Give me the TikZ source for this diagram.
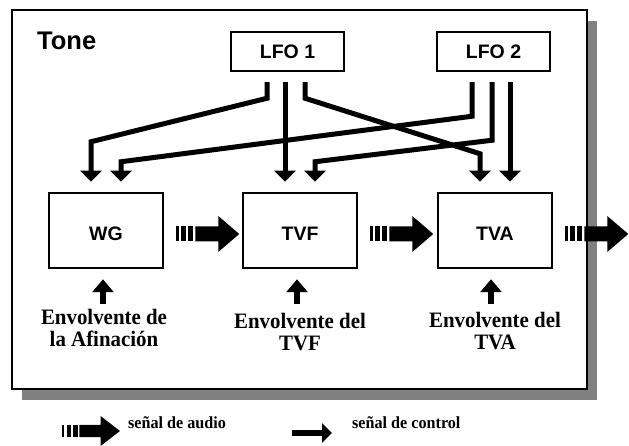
\documentclass[tikz,border=0pt]{standalone}
\usepackage{fontspec}
\setmainfont{Liberation Serif}
\newfontfamily\labelfont{Liberation Sans}
\newfontfamily\envfont{Liberation Serif}[FakeStretch=0.95]
\usetikzlibrary{arrows.meta,calc,shadows}

\definecolor{shadowgray}{RGB}{128,128,128}

\tikzset{
  framebox/.style={draw, line width=2.5pt, fill=white, minimum width=575pt,
    minimum height=379pt, inner sep=0pt,
    drop shadow={shadow xshift=10pt, shadow yshift=-11pt, fill=shadowgray, opacity=1}},
  blockbox/.style={draw, line width=2.5pt, minimum width=114pt, minimum height=75pt, inner sep=0pt},
  lfobox/.style={draw, line width=2.5pt, minimum width=113pt, minimum height=39pt, inner sep=0pt,
    font=\labelfont\bfseries\fontsize{19.5}{20}\selectfont},
  boxtext/.style={inner sep=0pt, font=\labelfont\bfseries\fontsize{19.5}{20}\selectfont},
  titletext/.style={inner sep=0pt, anchor=base west, font=\labelfont\bfseries\fontsize{25.5}{26}\selectfont},
  envtext/.style={inner sep=0pt, anchor=north, align=center,
    font=\envfont\bfseries\fontsize{22}{22.5}\selectfont},
  legendtext/.style={inner sep=0pt, anchor=base west,
    font=\envfont\bfseries\fontsize{17}{18}\selectfont},
  ctrl/.style={line width=5pt, line join=miter, -{Triangle[width=21pt,length=11pt]}},
  envarrow/.style={line width=6pt, -{Triangle[width=21pt,length=13pt]}},
  legendctrl/.style={line width=5.5pt, -{Triangle[width=19pt,length=10pt]}},
  audioarrow/.pic={
    \fill (0,-7.5) rectangle (2.5,7.5);
    \fill (5,-7.5) rectangle (9.5,7.5);
    \fill (12,-7.5) rectangle (17,7.5);
    \fill (19,-7.5) -- (42,-7.5) -- (42,-18) -- (63,0) -- (42,18) -- (42,7.5) -- (19,7.5) -- cycle;
  }
}

\begin{document}
\begin{tikzpicture}[x=1pt,y=-1pt]
  \useasboundingbox (0,0) rectangle (629,446);

  % outer frame of the tone
  \node[framebox] (toneframe) at (299.5,199.5) {};
  \node[titletext] (tonelabel) at (37,50) {Tone};

  % LFO sources
  \node[lfobox] (lfo1) at (287.5,51.5) {LFO 1};
  \node[lfobox] (lfo2) at (493.5,51.5) {LFO 2};

  % processing blocks
  \node[blockbox] (wg)  at (106,230.5) {};
  \node[blockbox] (tvf) at (300,230.5) {};
  \node[blockbox] (tva) at (495,230.5) {};
  \node[boxtext] (wglabel)  at (106,233.5) {WG};
  \node[boxtext] (tvflabel) at (300,233.5) {TVF};
  \node[boxtext] (tvalabel) at (495,233.5) {TVA};

  % control signals from LFO 1
  \draw[ctrl] ($(lfo1.south)+(-20.5,10)$) -- ++(0,16)
    -- ($(wg.north)+(-15,-50)$) -- ($(wg.north)+(-15,-10)$);
  \draw[ctrl] ($(lfo1.south)+(-2.5,10)$) -- ($(tvf.north)+(-15,-10)$);
  \draw[ctrl] ($(lfo1.south)+(17.5,10)$) -- ++(0,16)
    -- ($(tva.north)+(-15,-38)$) -- ($(tva.north)+(-15,-10)$);

  % control signals from LFO 2
  \draw[ctrl] ($(lfo2.south)+(-21.5,10)$) -- ++(0,34)
    -- ($(wg.north)+(15,-30)$) -- ($(wg.north)+(15,-10)$);
  \draw[ctrl] ($(lfo2.south)+(-1.5,10)$) -- ++(0,58)
    -- ($(tvf.north)+(15,-30)$) -- ($(tvf.north)+(15,-10)$);
  \draw[ctrl] ($(lfo2.south)+(16.5,10)$) -- ($(tva.north)+(15,-10)$);

  % audio signal path
  \pic at ($(wg.east)+(12,3.5)$) {audioarrow};
  \pic at ($(tvf.east)+(12,3.5)$) {audioarrow};
  \pic at ($(tva.east)+(12,3.5)$) {audioarrow};

  % envelopes
  \node[envtext] (wgenv)  at (104,309) {Envolvente de\\la Afinación};
  \node[envtext] (tvfenv) at (300,313) {Envolvente del\\TVF};
  \node[envtext] (tvaenv) at (495,312) {Envolvente del\\TVA};
  \draw[envarrow] ($(wg.south)+(-3,35)$) -- ($(wg.south)+(-3,10)$);
  \draw[envarrow] ($(tvf.south)+(-3,35)$) -- ($(tvf.south)+(-3,10)$);
  \draw[envarrow] ($(tva.south)+(-4,35)$) -- ($(tva.south)+(-4,10)$);

  % legend
  \pic[xscale=0.92, yscale=0.83] at (62,431) {audioarrow};
  \node[legendtext] (audiolegend) at (128,428) {señal de audio};
  \coordinate (ctrlfrom) at (292,433);
  \coordinate (ctrlto) at (332,433);
  \draw[legendctrl] (ctrlfrom) -- (ctrlto);
  \node[legendtext] (ctrllegend) at (352,428) {señal de control};
\end{tikzpicture}
\end{document}
